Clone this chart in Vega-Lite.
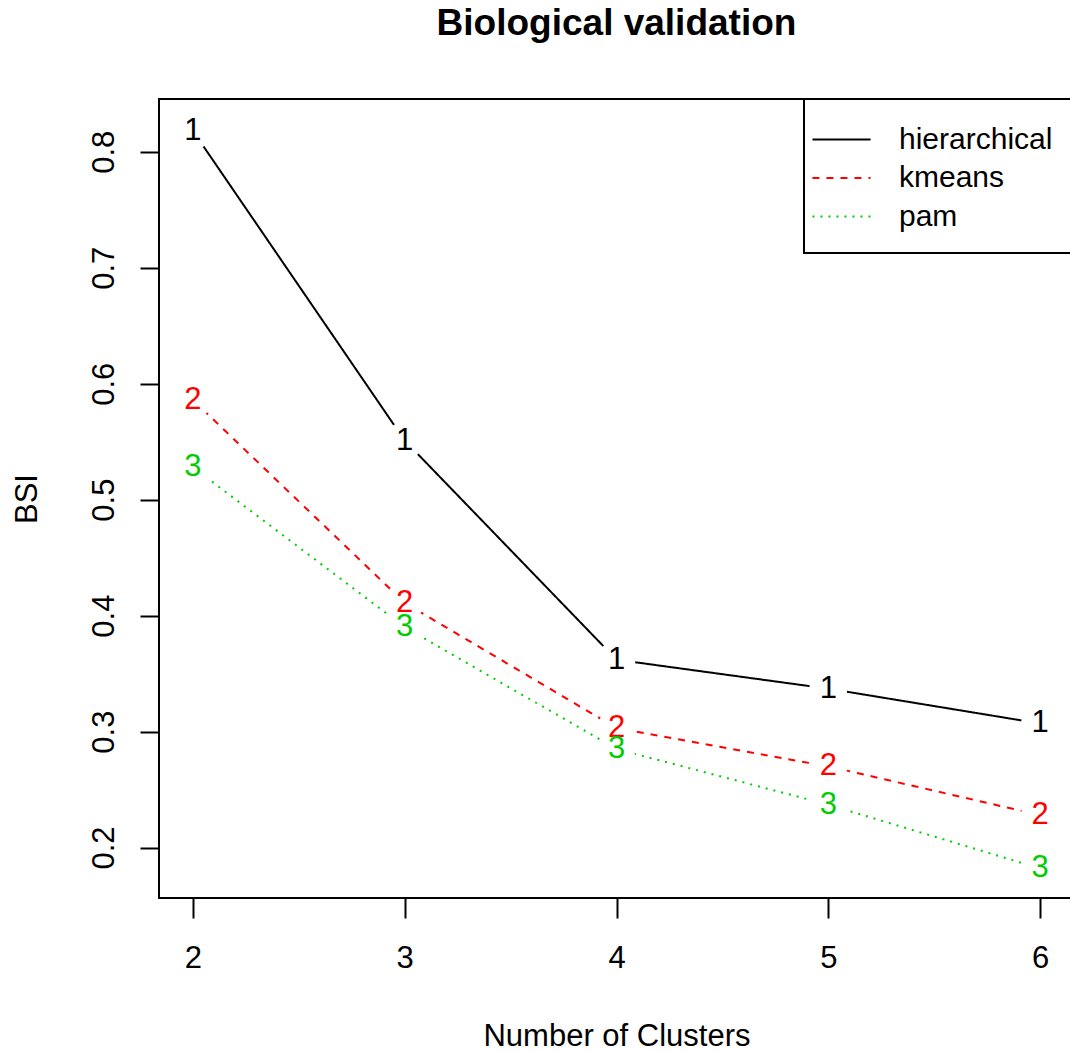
{
  "$schema": "https://vega.github.io/schema/vega-lite/v6.json",
  "autosize": "none",
  "padding": {"left": 159, "top": 99, "right": 0, "bottom": 153},
  "width": 915,
  "height": 799,
  "background": "white",
  "title": {
    "text": "Biological validation",
    "font": "Liberation Sans",
    "fontSize": 37,
    "fontWeight": "bold",
    "color": "black",
    "anchor": "middle",
    "baseline": "alphabetic",
    "offset": 26
  },
  "config": {
    "view": {"stroke": "black", "strokeWidth": 2},
    "font": "Liberation Sans",
    "axis": {
      "domain": false,
      "grid": false,
      "tickColor": "black",
      "tickWidth": 2,
      "labelColor": "black",
      "labelFont": "Liberation Sans",
      "labelFontSize": 31,
      "titleFont": "Liberation Sans",
      "titleFontSize": 31,
      "titleFontWeight": "normal",
      "titleColor": "black"
    },
    "legend": {
      "orient": "top-right",
      "offset": 0,
      "strokeColor": "black",
      "strokeWidth": 2,
      "fillColor": "white",
      "padding": 21,
      "labelFont": "Liberation Sans",
      "labelFontSize": 30,
      "labelColor": "black",
      "symbolType": "M-1.57,0H1.57",
      "symbolSize": 1369,
      "symbolStrokeWidth": 2,
      "symbolOffset": -3,
      "rowPadding": 3.5,
      "labelOffset": 38,
      "cornerRadius": 0
    }
  },
  "data": {
    "values": [
      {"clusters": 2, "method": "hierarchical", "code": "1", "BSI": 0.818},
      {"clusters": 3, "method": "hierarchical", "code": "1", "BSI": 0.551},
      {"clusters": 4, "method": "hierarchical", "code": "1", "BSI": 0.362},
      {"clusters": 5, "method": "hierarchical", "code": "1", "BSI": 0.337},
      {"clusters": 6, "method": "hierarchical", "code": "1", "BSI": 0.307},
      {"clusters": 2, "method": "kmeans", "code": "2", "BSI": 0.586},
      {"clusters": 3, "method": "kmeans", "code": "2", "BSI": 0.411},
      {"clusters": 4, "method": "kmeans", "code": "2", "BSI": 0.303},
      {"clusters": 5, "method": "kmeans", "code": "2", "BSI": 0.270},
      {"clusters": 6, "method": "kmeans", "code": "2", "BSI": 0.228},
      {"clusters": 2, "method": "pam", "code": "3", "BSI": 0.528},
      {"clusters": 3, "method": "pam", "code": "3", "BSI": 0.390},
      {"clusters": 4, "method": "pam", "code": "3", "BSI": 0.285},
      {"clusters": 5, "method": "pam", "code": "3", "BSI": 0.237},
      {"clusters": 6, "method": "pam", "code": "3", "BSI": 0.182}
    ]
  },
  "encoding": {
    "x": {
      "field": "clusters",
      "type": "quantitative",
      "scale": {"domain": [1.84, 6.16], "nice": false, "zero": false},
      "axis": {
        "title": "Number of Clusters",
        "values": [2, 3, 4, 5, 6],
        "format": "d",
        "tickSize": 20,
        "labelPadding": 49,
        "labelBaseline": "alphabetic",
        "labelAlign": "center",
        "labelFlush": false,
        "labelOverlap": false,
        "titleX": 457.5,
        "titleY": 147,
        "titleBaseline": "alphabetic",
        "titleAlign": "center"
      }
    },
    "y": {
      "field": "BSI",
      "type": "quantitative",
      "scale": {"domain": [0.1565, 0.8455], "nice": false, "zero": false},
      "axis": {
        "title": "BSI",
        "values": [0.2, 0.3, 0.4, 0.5, 0.6, 0.7, 0.8],
        "format": ".1f",
        "tickSize": 19,
        "labelAngle": 270,
        "labelAlign": "center",
        "labelBaseline": "alphabetic",
        "labelPadding": 27,
        "labelFlush": false,
        "labelOverlap": false,
        "titleAngle": 270,
        "titleX": -123,
        "titleY": 399.5,
        "titleAlign": "center",
        "titleBaseline": "alphabetic"
      }
    }
  },
  "layer": [
    {
      "mark": {"type": "line", "strokeWidth": 2},
      "encoding": {
        "color": {
          "field": "method",
          "type": "nominal",
          "scale": {"domain": ["hierarchical", "kmeans", "pam"], "range": ["#000000", "#FF0000", "#00CD00"]},
          "legend": {"title": null}
        },
        "strokeDash": {
          "field": "method",
          "type": "nominal",
          "scale": {"domain": ["hierarchical", "kmeans", "pam"], "range": [[1, 0], [7, 7], [2, 6]]},
          "legend": {"title": null}
        }
      }
    },
    {
      "mark": {"type": "point", "shape": "circle", "filled": true, "color": "white", "opacity": 1, "size": 1444, "strokeWidth": 0}
    },
    {
      "mark": {"type": "text", "fontSize": 31, "baseline": "middle", "align": "center", "font": "Liberation Sans"},
      "encoding": {
        "text": {"field": "code", "type": "nominal"},
        "color": {"field": "method", "type": "nominal", "legend": null}
      }
    }
  ]
}
